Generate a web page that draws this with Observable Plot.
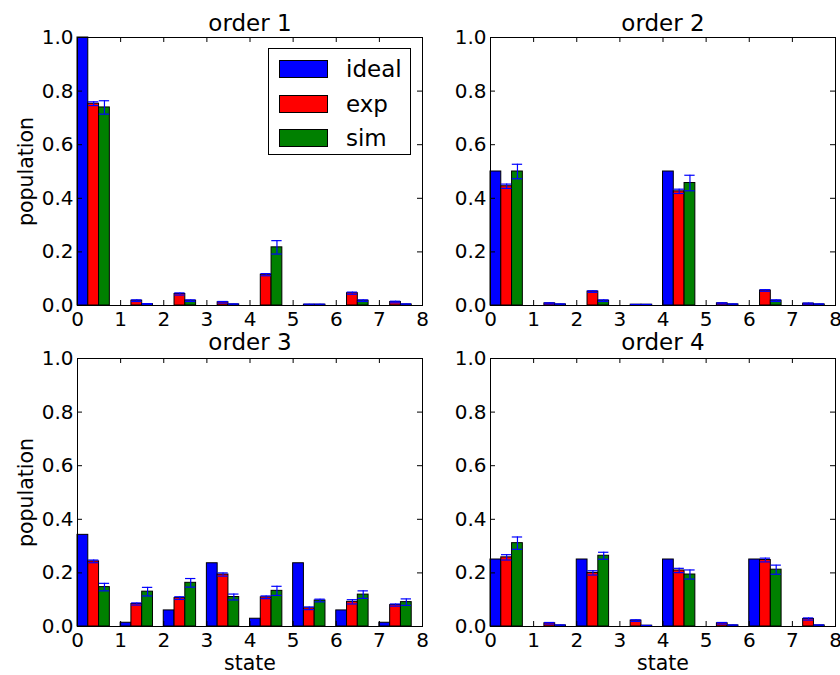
<!DOCTYPE html>
<html><head><meta charset="utf-8">
<script src="https://cdn.jsdelivr.net/npm/d3@7"></script>
<script src="https://cdn.jsdelivr.net/npm/@observablehq/plot@0.6"></script>
<style>
body{margin:0;background:#fff;}
#chart{position:relative;width:840px;height:675px;font-family:"DejaVu Sans",sans-serif;overflow:hidden;}
#chart svg{position:absolute;overflow:visible;background:transparent;}
.legend{position:absolute;left:268px;top:48px;width:141px;height:105px;border:1px solid #000;background:#fff;box-sizing:content-box;}
.legend .row{position:absolute;left:10px;display:flex;align-items:center;height:20px;}
.legend .sw{width:47px;height:16px;border:1px solid #000;margin-right:18px;}
.legend .lb{font-size:23px;color:#000;line-height:20px;}
</style></head><body><div id="chart"></div>
<script>
const states = [0, 1, 2, 3, 4, 5, 6, 7];
const series = ["ideal", "exp", "sim"];
const colors = ["#0000ff", "#ff0000", "#008000"];
const titles = ["order 1", "order 2", "order 3", "order 4"];
const xTicks = [0, 1, 2, 3, 4, 5, 6, 7, 8];
const yTicks = [0, 0.2, 0.4, 0.6, 0.8, 1.0];

const ideal1 = [1.0, 0, 0, 0, 0, 0, 0, 0];
const exp1 = [0.753, 0.018, 0.043, 0.012, 0.115, 0.003, 0.046, 0.013];
const expErr1 = [0.007, 0.003, 0.004, 0.003, 0.004, 0.002, 0.004, 0.003];
const sim1 = [0.739, 0.005, 0.018, 0.004, 0.217, 0.003, 0.018, 0.004];
const simErr1 = [0.025, 0.002, 0.003, 0.002, 0.025, 0.002, 0.003, 0.002];

const ideal2 = [0.5, 0, 0, 0, 0.5, 0, 0, 0];
const exp2 = [0.445, 0.008, 0.052, 0.003, 0.426, 0.008, 0.056, 0.007];
const expErr2 = [0.008, 0.002, 0.003, 0.001, 0.008, 0.002, 0.003, 0.002];
const sim2 = [0.5, 0.004, 0.018, 0.003, 0.457, 0.004, 0.018, 0.004];
const simErr2 = [0.027, 0.002, 0.003, 0.001, 0.029, 0.002, 0.003, 0.002];

const ideal3 = [0.342, 0.014, 0.06, 0.236, 0.029, 0.236, 0.06, 0.014];
const exp3 = [0.243, 0.084, 0.106, 0.194, 0.109, 0.068, 0.092, 0.080];
const expErr3 = [0.005, 0.004, 0.005, 0.006, 0.005, 0.005, 0.008, 0.004];
const sim3 = [0.147, 0.13, 0.163, 0.11, 0.133, 0.097, 0.119, 0.091];
const simErr3 = [0.014, 0.016, 0.016, 0.011, 0.017, 0.005, 0.014, 0.012];

const ideal4 = [0.25, 0, 0.25, 0, 0.25, 0, 0.25, 0];
const exp4 = [0.258, 0.012, 0.20, 0.022, 0.209, 0.012, 0.248, 0.028];
const expErr4 = [0.01, 0.003, 0.008, 0.003, 0.008, 0.003, 0.007, 0.004];
const sim4 = [0.311, 0.004, 0.264, 0.003, 0.194, 0.004, 0.212, 0.004];
const simErr4 = [0.023, 0.002, 0.013, 0.001, 0.017, 0.002, 0.017, 0.002];

const panelsData = [
  {vals: [ideal1, exp1, sim1], errs: [null, expErr1, simErr1]},
  {vals: [ideal2, exp2, sim2], errs: [null, expErr2, simErr2]},
  {vals: [ideal3, exp3, sim3], errs: [null, expErr3, simErr3]},
  {vals: [ideal4, exp4, sim4], errs: [null, expErr4, simErr4]}
];

const barW = 0.25, capHalf = 0.12, tickLen = 5;
const layout = [
  {left: 0, top: 0, width: 425, height: 330, ml: 77, mr: 3, mt: 37, mb: 25, ylab: true, xlab: false, tdy: -22.5},
  {left: 425, top: 0, width: 415, height: 330, ml: 65, mr: 5, mt: 37, mb: 25, ylab: false, xlab: false, tdy: -22.5},
  {left: 0, top: 330, width: 425, height: 345, ml: 77, mr: 3, mt: 28, mb: 49, ylab: true, xlab: true, tdy: -24.5},
  {left: 425, top: 330, width: 415, height: 345, ml: 65, mr: 5, mt: 28, mb: 49, ylab: false, xlab: true, tdy: -24.5}
];

const chart = document.getElementById("chart");

panelsData.forEach((pd, p) => {
  const L = layout[p];
  const W = L.width - L.ml - L.mr, H = L.height - L.mt - L.mb;
  const rows = [];
  series.forEach((s, k) => states.forEach((st, i) => {
    rows.push({state: st, series: s, value: pd.vals[k][i], err: pd.errs[k] ? pd.errs[k][i] : null,
      x1: st + k * barW, x2: st + (k + 1) * barW, xc: st + (k + 0.5) * barW});
  }));
  const errRows = rows.filter(d => d.err != null);
  const marks = [
    Plot.rect(rows, {x1: "x1", x2: "x2", y1: 0, y2: "value", fill: "series", stroke: "black", strokeWidth: 1}),
    Plot.ruleX(errRows, {x: "xc", y1: d => d.value - d.err, y2: d => d.value + d.err, stroke: colors[0], strokeWidth: 1.2}),
    Plot.ruleY(errRows, {y: d => d.value + d.err, x1: d => d.xc - capHalf, x2: d => d.xc + capHalf, stroke: colors[0], strokeWidth: 1.2}),
    Plot.ruleY(errRows, {y: d => d.value - d.err, x1: d => d.xc - capHalf, x2: d => d.xc + capHalf, stroke: colors[0], strokeWidth: 1.2}),
    Plot.frame({stroke: "black", strokeWidth: 1}),
    Plot.ruleX(xTicks, {x: d => d, insetBottom: H - tickLen, stroke: "black"}),
    Plot.ruleX(xTicks, {x: d => d, insetTop: H - tickLen, stroke: "black"}),
    Plot.ruleY(yTicks, {y: d => d, insetRight: W - tickLen, stroke: "black"}),
    Plot.ruleY(yTicks, {y: d => d, insetLeft: W - tickLen, stroke: "black"}),
    Plot.axisX({ticks: xTicks, tickSize: 0, tickPadding: 6, label: null, fontSize: 20, tickFormat: d => String(d)}),
    Plot.axisY({ticks: yTicks, tickSize: 0, tickPadding: 4, label: null, fontSize: 20, tickFormat: d3.format(".1f")}),
    Plot.text([titles[p]], {text: d => d, frameAnchor: "top", dy: L.tdy, fontSize: 23, fill: "black"})
  ];
  if (L.ylab) marks.push(Plot.text(["population"], {text: d => d, frameAnchor: "left", textAnchor: "middle", lineAnchor: "middle", rotate: -90, dx: -51, fontSize: 20.5, fill: "black"}));
  if (L.xlab) marks.push(Plot.text(["state"], {text: d => d, frameAnchor: "bottom", dy: 43, fontSize: 20.5, fill: "black"}));
  const svg = Plot.plot({
    width: L.width, height: L.height,
    marginLeft: L.ml, marginRight: L.mr, marginTop: L.mt, marginBottom: L.mb,
    style: {fontFamily: "DejaVu Sans", fontSize: "20px", background: "transparent", overflow: "visible", color: "black"},
    x: {domain: [0, 8]},
    y: {domain: [0, 1]},
    color: {domain: series, range: colors},
    marks
  });
  svg.style.left = L.left + "px";
  svg.style.top = L.top + "px";
  chart.appendChild(svg);
});

// legend
const leg = document.createElement("div");
leg.className = "legend";
const rowTops = [10, 45, 79];
series.forEach((s, k) => {
  const r = document.createElement("div");
  r.className = "row";
  r.style.top = rowTops[k] + "px";
  const sw = document.createElement("div");
  sw.className = "sw";
  sw.style.background = colors[k];
  const lb = document.createElement("span");
  lb.className = "lb";
  lb.textContent = s;
  r.appendChild(sw); r.appendChild(lb);
  leg.appendChild(r);
});
chart.appendChild(leg);
</script>
</body></html>
